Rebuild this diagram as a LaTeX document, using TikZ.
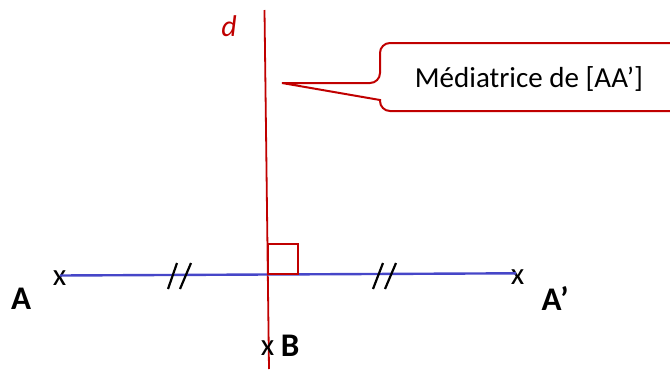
\documentclass[tikz,border=0pt]{standalone}
\usepackage{fontspec}
\setmainfont{Carlito}
\definecolor{dred}{RGB}{192,0,0}
\definecolor{dblue}{RGB}{70,70,200}
\begin{document}
\begin{tikzpicture}[x=1pt,y=-1pt,
  redline/.style={draw=dred,line width=1.8pt},
  blueline/.style={draw=dblue,line width=2.4pt},
  tick/.style={draw=black,line width=2.2pt},
  cross/.style={inner sep=0pt,font=\fontsize{31}{34}\selectfont},
  ptlabel/.style={inner sep=0pt,font=\fontsize{33}{36}\selectfont\bfseries},
  calltext/.style={inner sep=0pt,font=\fontsize{29}{32}\selectfont}]
\useasboundingbox (0,0) rectangle (670,370);
\clip (0,0) rectangle (670,370);
% perpendicular bisector d
\coordinate (dtop) at (264.5,10);
\coordinate (dbot) at (269,369);
\draw[redline] (dtop) -- (dbot);
\node[inner sep=0pt,text=dred,font=\fontsize{30}{32}\selectfont\itshape] (dlab) at (229,26) {d};
% points
\node[cross] (A) at (59.5,278.5) {x};
\node[cross] (Ap) at (517.5,277) {x};
\node[cross] (B) at (267.5,348) {x};
\node[ptlabel] (Alab) at (21,299) {A};
\node[ptlabel] (Aplab) at (555,298) {A’};
\node[ptlabel] (Blab) at (290,346) {B};
% segment [AA']
\coordinate (P) at (60,275.5);
\coordinate (Pp) at (516,273.3);
\draw[blueline] (P) -- (Pp);
% right angle
\coordinate (I) at (268,274);
\draw[redline] (I) rectangle ++(30,-30);
% equal-length ticks
\draw[tick] (168,289) -- (177,263) (180,289) -- (191,263);
\draw[tick] (373,289) -- (383,263) (385,289) -- (396,263);
% callout
\coordinate (tip) at (282,83);
\draw[redline,line width=2pt,fill=white]
  (380,83) -- (tip) -- (380,100) [rounded corners=10] -- (380,111) -- (690,111) -- (690,43) -- (380,43) -- cycle;
\node[calltext] (call) at (529,79) {Médiatrice de [AA’]};
\end{tikzpicture}
\end{document}
